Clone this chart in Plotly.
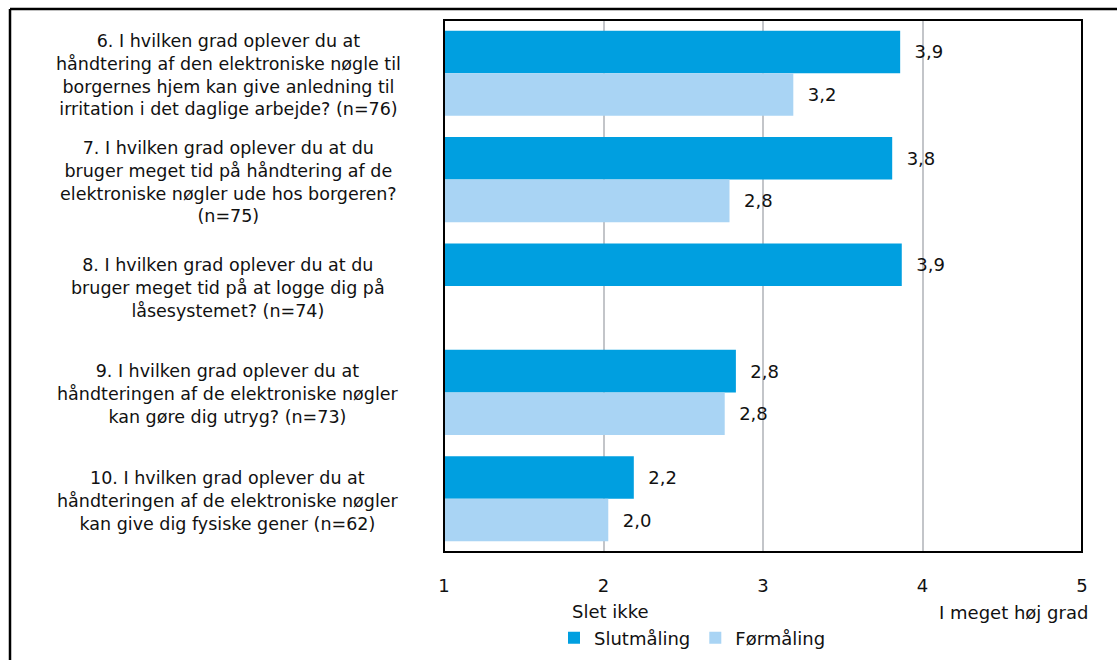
import plotly.graph_objects as go

categories = [
    "6. I hvilken grad oplever du at<br>håndtering af den elektroniske nøgle til<br>borgernes hjem kan give anledning til<br>irritation i det daglige arbejde? (n=76)",
    "7. I hvilken grad oplever du at du<br>bruger meget tid på håndtering af de<br>elektroniske nøgler ude hos borgeren?<br>(n=75)",
    "8. I hvilken grad oplever du at du<br>bruger meget tid på at logge dig på<br>låsesystemet? (n=74)",
    "9. I hvilken grad oplever du at<br>håndteringen af de elektroniske nøgler<br>kan gøre dig utryg? (n=73)",
    "10. I hvilken grad oplever du at<br>håndteringen af de elektroniske nøgler<br>kan give dig fysiske gener (n=62)",
]
slutmaaling = [3.86, 3.81, 3.87, 2.83, 2.19]
foermaaling = [3.19, 2.79, None, 2.76, 2.03]
series_names = ["Slutmåling", "Førmåling"]
colors = ["#009FE0", "#A9D4F4"]
tick_vals = [1, 2, 3, 4, 5]
scale_low_label = "Slet ikke"
scale_high_label = "I meget høj grad"

FONT = "DejaVu Sans"
TXT = "#111111"
W, H = 1117, 660
L, R, T, B = 444, 1082, 20, 552

def px_x(p):
    return (p - L) / (R - L)

def px_y(p):
    return (B - p) / (B - T)

fig = go.Figure()
for name, vals, col in zip(series_names, [slutmaaling, foermaaling], colors):
    fig.add_trace(go.Bar(
        name=name, y=categories, x=vals, base=0, orientation="h",
        marker=dict(color=col, line=dict(width=0)),
        texttemplate="\u00a0\u00a0%{x:.1f}", textposition="outside",
        textfont=dict(family=FONT, size=18, color=TXT),
        cliponaxis=False,
    ))

annotations = []
for c in categories:
    annotations.append(dict(
        x=px_x(228), xref="paper", y=c, yref="y", text=c, showarrow=False,
        xanchor="center", yanchor="middle", align="center", yshift=-2,
        font=dict(family=FONT, size=17.5, color=TXT),
    ))
annotations.append(dict(x=px_x(610), xref="paper", y=px_y(611), yref="paper",
                        text=scale_low_label, showarrow=False, xanchor="center",
                        yanchor="middle", font=dict(family=FONT, size=18, color=TXT)))
annotations.append(dict(x=px_x(1090), xref="paper", y=px_y(612), yref="paper",
                        text=scale_high_label, showarrow=False, xanchor="right",
                        yanchor="middle", font=dict(family=FONT, size=18, color=TXT)))

shapes = [
    dict(type="rect", xref="paper", yref="paper", x0=0, x1=1, y0=0, y1=1,
         line=dict(color="black", width=2), layer="above"),
    dict(type="line", xref="paper", yref="paper", x0=px_x(10), x1=px_x(1130),
         y0=px_y(9), y1=px_y(9), line=dict(color="black", width=2.5)),
    dict(type="line", xref="paper", yref="paper", x0=px_x(10), x1=px_x(10),
         y0=px_y(9), y1=px_y(680), line=dict(color="black", width=2.5)),
]

fig.update_layout(
    width=W, height=H,
    margin=dict(l=L, r=W - R, t=T, b=H - B, autoexpand=False),
    paper_bgcolor="white", plot_bgcolor="white",
    separators=",.",
    barmode="group", bargap=0.2, bargroupgap=0,
    font=dict(family=FONT, size=18, color=TXT),
    showlegend=True,
    legend=dict(orientation="h", x=px_x(554), y=px_y(638), xanchor="left",
                yanchor="middle", font=dict(family=FONT, size=18, color=TXT),
                itemwidth=30, tracegroupgap=0, bgcolor="rgba(0,0,0,0)"),
    xaxis=dict(range=[1, 5], tickvals=tick_vals, showgrid=True, gridcolor="#C3C5C9",
               gridwidth=1.5, zeroline=False, showline=False, ticks="",
               ticklabelstandoff=21, tickfont=dict(family=FONT, size=18, color=TXT)),
    yaxis=dict(autorange="reversed", showticklabels=False, showgrid=False,
               zeroline=False, showline=False, ticks=""),
    annotations=annotations, shapes=shapes,
)
fig.write_html("out.html")
